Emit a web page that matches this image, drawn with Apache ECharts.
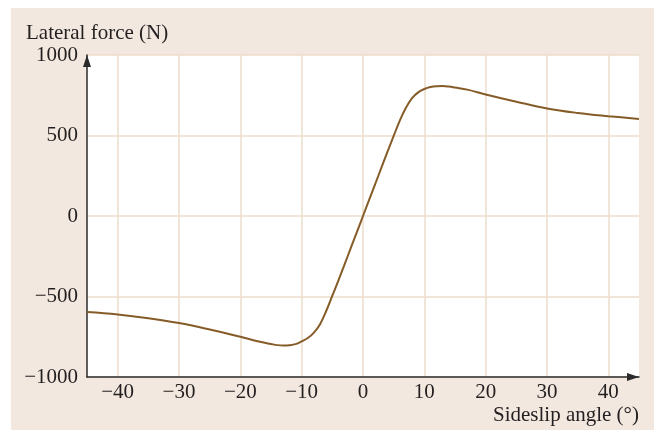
<!DOCTYPE html>
<html>
<head>
<meta charset="utf-8">
<script src="https://cdn.jsdelivr.net/npm/echarts@6/dist/echarts.min.js"></script>
<style>
html,body{margin:0;padding:0;background:#fff;}
#bg{position:absolute;left:11px;top:8px;width:643px;height:422px;background:#f3e8df;}
#chart{position:absolute;left:0;top:0;width:660px;height:430px;}
</style>
</head>
<body>
<div id="bg"></div>
<div id="chart"></div>
<script>
// Sideslip angle (deg)
const angles = [-45,-40,-35,-30,-25,-20,-17,-15,-14,-13,-12,-11,-10,-9,-8,-7,-6,-5,-4,-3,-2,-1,0,1,2,3,4,5,6,7,8,9,10,11,12,13,14,15,17,20,25,30,35,40,45];
// Lateral force (N)
const forces = [-597,-612,-635,-665,-705,-750,-780,-795,-802,-805,-803,-796,-779,-758,-724,-672,-590,-495,-400,-300,-200,-100,0,100,200,300,400,497,593,672,732,768,789,801,806,807,804,798,785,755,710,668,640,620,603];
const xTicks = [-40,-30,-20,-10,0,10,20,30,40];
const yTicks = [-1000,-500,0,500,1000];

const points = angles.map((a, i) => [a, forces[i]]);
const chart = echarts.init(document.getElementById('chart'), null, {renderer:'canvas'});
const font = 'Liberation Serif';
const minus = v => String(v).replace('-', '\u2212');
chart.setOption({
  backgroundColor: 'transparent',
  animation: false,
  title: {
    text: 'Lateral force (N)',
    left: 26, top: 23, padding: 0,
    textStyle: {fontFamily: font, fontSize: 21, fontWeight: 'normal', color: '#231f20', lineHeight: 21}
  },
  grid: {left: 87, right: 21, top: 55, bottom: 53, show: true, backgroundColor: '#ffffff', borderWidth: 0},
  xAxis: {
    type: 'value', min: -45, max: 45,
    name: 'Sideslip angle (°)', nameLocation: 'end', nameGap: 0,
    nameTextStyle: {fontFamily: font, fontSize: 21, color: '#231f20', align: 'right', verticalAlign: 'top', padding: [28, 0, 0, 0]},
    axisLine: {onZero: false, lineStyle: {color: '#2b2b2b', width: 1.5}, symbol: ['none', 'triangle'], symbolSize: [8, 12], symbolOffset: [0, -6]},
    axisTick: {show: false, customValues: xTicks},
    axisLabel: {customValues: xTicks, fontFamily: font, fontSize: 21, color: '#231f20', margin: 5, formatter: minus},
    splitLine: {show: true, lineStyle: {color: '#ecdccb', width: 1.5}}
  },
  yAxis: {
    type: 'value', min: yTicks[0], max: yTicks[yTicks.length - 1], interval: 500,
    axisLine: {show: true, onZero: false, lineStyle: {color: '#2b2b2b', width: 1.5}, symbol: ['none', 'triangle'], symbolSize: [8, 12], symbolOffset: [0, -6]},
    axisTick: {show: false},
    axisLabel: {fontFamily: font, fontSize: 21, color: '#231f20', margin: 9, formatter: minus},
    splitLine: {show: true, lineStyle: {color: '#ecdccb', width: 1.5}}
  },
  series: [{
    type: 'line', data: points, smooth: 0.4, showSymbol: false,
    lineStyle: {color: '#855c28', width: 2}
  }]
});
</script>
</body>
</html>
